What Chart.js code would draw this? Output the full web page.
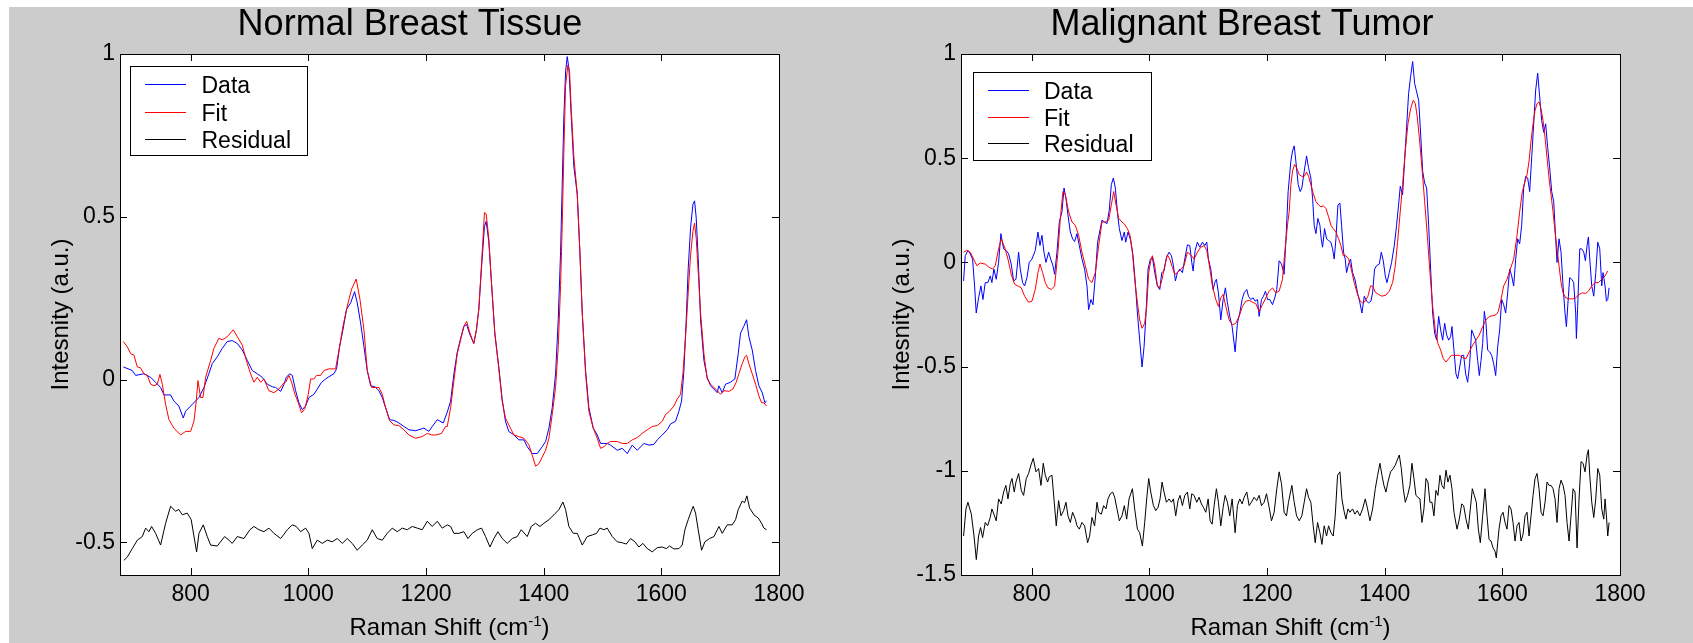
<!DOCTYPE html>
<html>
<head>
<meta charset="utf-8">
<title>Raman spectra - normal vs malignant breast tissue</title>
<script src="https://cdn.jsdelivr.net/npm/chart.js@4.4.0/dist/chart.umd.min.js"></script>
<style>
  html, body { margin: 0; padding: 0; background: #fff; }
  #fig { position: relative; width: 1693px; height: 643px; overflow: hidden; }
  #bg { position: absolute; left: 9px; top: 7px; right: 0; bottom: 0; background: #cccccc; }
  canvas { position: absolute; top: 0; }
  #normal { left: 0; }
  #tumor { left: 846px; }
</style>
</head>
<body>
<div id="fig">
  <div id="bg"></div>
  <canvas id="normal" width="846" height="643"></canvas>
  <canvas id="tumor" width="847" height="643"></canvas>
</div>
<script>
'use strict';

//titles and legend names
const normalTitle = 'Normal Breast Tissue';
const tumorTitle = 'Malignant Breast Tumor';
const seriesNames = ['Data', 'Fit', 'Residual'];
const xAxisName = 'Raman Shift (cm';
const xAxisSup = '-1';
const yAxisName = 'Intesnity (a.u.)';

//x axis (Raman shift, cm-1)
const xRange = [680, 1800];
const xTicks = [800, 1000, 1200, 1400, 1600, 1800];
const xTickLabels = ['800', '1000', '1200', '1400', '1600', '1800'];

//y axis for each plot
const normalYRange = [-0.6, 1];
const normalYTicks = [-0.5, 0, 0.5, 1];
const normalYTickLabels = ['-0.5', '0', '0.5', '1'];
const tumorYRange = [-1.5, 1];
const tumorYTicks = [-1.5, -1, -0.5, 0, 0.5, 1];
const tumorYTickLabels = ['-1.5', '-1', '-0.5', '0', '0.5', '1'];

//normal tissue: [shift, intensity]
const normalData = [
  [685.6, 0.039], [700.9, 0.028], [706.5, 0.013], [720.7, 0.018], [732, 0.007], [740.5, -0.008], [749, -0.024], [754.7, -0.047], [766, -0.047], [771.7, -0.066],
  [780, -0.081], [787.5, -0.118], [791.5, -0.097], [802.8, -0.076], [814, -0.055], [822.7, -0.024], [831, 0.018], [836.8, 0.049], [845.3, 0.07], [853.8, 0.096],
  [862.3, 0.117], [870.8, 0.12], [879.3, 0.111], [887.8, 0.091], [896.3, 0.059], [904.8, 0.028], [913.3, 0.018], [921.8, 0.007], [930.3, -0.014], [938.8, -0.022],
  [944.4, -0.024], [953, -0.036], [958.6, -0.015], [962.6, 0.007], [968.3, 0.018], [972.8, 0.013], [978.5, -0.034], [984.1, -0.071], [989.8, -0.092], [995.4, -0.081],
  [1001.1, -0.055], [1009.6, -0.045], [1015.3, -0.029], [1022.6, -0.008], [1029.4, 0.002], [1035.1, 0.009], [1043.6, 0.018], [1048.1, 0.033], [1053.2, 0.101], [1058.9, 0.153],
  [1065.1, 0.216], [1072, 0.236], [1078.7, 0.27], [1083.2, 0.236], [1088.9, 0.174], [1094.6, 0.101], [1100.2, 0.028], [1105.9, -0.019], [1113.3, -0.022], [1120.1, -0.034],
  [1125.7, -0.055], [1131.4, -0.086], [1138.2, -0.123], [1145.5, -0.125], [1154, -0.133], [1162.5, -0.144], [1171, -0.154], [1182.4, -0.157], [1196.5, -0.149], [1205, -0.159],
  [1210.7, -0.144], [1219.2, -0.123], [1229.4, -0.133], [1236.2, -0.1], [1241.9, -0.066], [1247.5, 0.018], [1253.2, 0.085], [1258.9, 0.127], [1264.5, 0.164], [1269.1, 0.169],
  [1274.7, 0.138], [1281.3, 0.111], [1285.8, 0.153], [1289.8, 0.216], [1294.3, 0.34], [1299.4, 0.47], [1302.3, 0.486], [1306.8, 0.424], [1311.3, 0.299], [1317, 0.143],
  [1323.8, 0.039], [1329.5, -0.06], [1335.1, -0.128], [1340.8, -0.159], [1349.5, -0.17], [1357.8, -0.185], [1366.5, -0.185], [1372.1, -0.206], [1380.6, -0.227], [1389.1, -0.227],
  [1397.6, -0.206], [1403.3, -0.19], [1409, -0.149], [1414.6, -0.086], [1420.3, 0.018], [1424.8, 0.184], [1428.8, 0.393], [1431.6, 0.601], [1434.4, 0.809], [1437.3, 0.945],
  [1440.1, 0.992], [1443, 0.955], [1446.9, 0.809], [1451.4, 0.653], [1457.1, 0.57], [1461.6, 0.393], [1465.6, 0.205], [1471.3, 0.028], [1476.9, -0.086], [1484.3, -0.149],
  [1491.1, -0.17], [1496.8, -0.196], [1502.4, -0.196], [1508.1, -0.196], [1513.7, -0.201], [1525.1, -0.217], [1533.6, -0.211], [1542.1, -0.227], [1550.6, -0.201], [1559.1, -0.217],
  [1570.4, -0.196], [1578.9, -0.201], [1587.4, -0.199], [1593.1, -0.185], [1601.6, -0.17], [1610.1, -0.154], [1615.7, -0.136], [1624.2, -0.128], [1629.9, -0.097], [1634.4, -0.066],
  [1638.4, 0.028], [1642.3, 0.184], [1645.7, 0.341], [1649.7, 0.466], [1653.7, 0.538], [1656.5, 0.549], [1659.3, 0.497], [1662.7, 0.372], [1666.7, 0.184], [1672.4, 0.059],
  [1678, 0.007], [1683.7, -0.019], [1689.4, -0.029], [1695, -0.04], [1697.8, -0.019], [1703.5, -0.04], [1709.2, -0.014], [1717.7, -0.008], [1725, 0.002], [1730.7, 0.08],
  [1734.7, 0.143], [1740.3, 0.164], [1744.9, 0.184], [1748.8, 0.132], [1754.5, 0.091], [1760.2, 0.028], [1765.8, -0.019], [1771.5, -0.04], [1776, -0.071], [1778.9, -0.066]
];

const normalFit = [
  [685.6, 0.117], [692.4, 0.101], [698, 0.08], [703.7, 0.075], [709.4, 0.039], [715, 0.036], [720.7, 0.018], [726.4, 0.013], [732, -0.014], [737.7, -0.019],
  [743.4, -0.014], [747.9, 0.016], [751.9, -0.014], [757.5, -0.076], [763.2, -0.123], [771.7, -0.149], [783, -0.17], [791.5, -0.159], [800, -0.159], [805.7, -0.128],
  [809.6, -0.066], [812.5, -0.003], [817, -0.055], [821, -0.055], [825.5, 0.007], [834, 0.059], [839.6, 0.096], [848, 0.127], [853.8, 0.122], [862.3, 0.132],
  [872.5, 0.153], [879.3, 0.132], [887.8, 0.106], [896.3, 0.049], [902, 0.018], [907.6, -0.008], [913.3, 0.007], [919, -0.008], [924.6, 0.002], [933, -0.034],
  [941.6, -0.04], [950, -0.029], [958.6, -0.01], [961.5, -0.008], [967.1, 0.013], [971.7, -0.008], [977.3, -0.045], [983, -0.071], [988.6, -0.102], [994.3, -0.089],
  [1000, -0.045], [1004, 0.002], [1009.6, 0.002], [1014.2, 0.013], [1021, 0.013], [1026.6, 0.028], [1035.1, 0.033], [1046.4, 0.033], [1053.2, 0.101], [1058.9, 0.164],
  [1066.3, 0.226], [1073.6, 0.278], [1081.5, 0.309], [1087.8, 0.247], [1094.6, 0.153], [1100.2, 0.028], [1107.6, -0.024], [1114.4, -0.024], [1120.1, -0.024], [1125.7, -0.045],
  [1131.4, -0.086], [1138.2, -0.126], [1145.5, -0.139], [1154, -0.141], [1162.5, -0.154], [1171, -0.17], [1182.4, -0.18], [1193.7, -0.175], [1202.2, -0.165], [1209.5, -0.17],
  [1217.5, -0.17], [1226.5, -0.165], [1233.3, -0.144], [1236.2, -0.144], [1241.9, -0.086], [1247.5, -0.003], [1253.2, 0.08], [1258.9, 0.122], [1264.5, 0.164], [1269.1, 0.179],
  [1274.7, 0.143], [1281.3, 0.111], [1285.8, 0.153], [1289.8, 0.216], [1294.3, 0.351], [1299.4, 0.513], [1302.3, 0.509], [1306.8, 0.434], [1311.3, 0.299], [1317, 0.143],
  [1323.8, 0.033], [1329.5, -0.066], [1335.1, -0.118], [1340.8, -0.139], [1349.5, -0.17], [1357.8, -0.175], [1366.5, -0.18], [1374.9, -0.2], [1380.6, -0.232], [1386.3, -0.266],
  [1392, -0.258], [1397.6, -0.238], [1403.3, -0.217], [1409, -0.18], [1414.6, -0.107], [1420.3, -0.024], [1424.8, 0.101], [1428.8, 0.289], [1431.6, 0.476], [1434.4, 0.705],
  [1437.3, 0.903], [1441.2, 0.966], [1444.1, 0.945], [1446.9, 0.83], [1451.4, 0.684], [1457.1, 0.57], [1461.6, 0.393], [1465.6, 0.205], [1471.3, 0.018], [1476.9, -0.097],
  [1484.3, -0.149], [1491.1, -0.18], [1496.8, -0.211], [1502.4, -0.206], [1508.1, -0.196], [1513.7, -0.19], [1525.1, -0.19], [1533.6, -0.196], [1542.1, -0.196], [1550.6, -0.185],
  [1559.1, -0.178], [1567.6, -0.165], [1576.1, -0.154], [1584.6, -0.144], [1593.1, -0.141], [1601.6, -0.128], [1607.2, -0.107], [1614, -0.097], [1621.4, -0.081], [1627, -0.06],
  [1632.7, -0.045], [1636.7, 0.018], [1641.2, 0.132], [1645.7, 0.268], [1649.7, 0.382], [1653.7, 0.455], [1656.5, 0.481], [1659.3, 0.434], [1662.7, 0.33], [1666.7, 0.205],
  [1672.4, 0.08], [1678, 0.002], [1683.7, -0.014], [1689.4, -0.024], [1695, -0.034], [1700.7, -0.045], [1706.4, -0.034], [1714.9, -0.036], [1721.6, -0.029], [1727.3, -0.008],
  [1731.8, 0.018], [1737.5, 0.049], [1742, 0.07], [1744.9, 0.075], [1748.8, 0.049], [1754.5, 0.018], [1760.2, -0.014], [1765.8, -0.05], [1770.4, -0.071], [1774.3, -0.071],
  [1778.9, -0.081]
];

const normalResidual = [
  [686.7, -0.555], [692.4, -0.545], [700.9, -0.519], [709.4, -0.493], [717.9, -0.482], [723.6, -0.456], [729.2, -0.467], [733.7, -0.451], [740.5, -0.472], [749, -0.508],
  [757.5, -0.441], [766, -0.389], [774.5, -0.404], [780, -0.399], [785.8, -0.415], [794.3, -0.41], [801, -0.43], [806.8, -0.493], [810.2, -0.529], [814.2, -0.472],
  [821.5, -0.446], [828.3, -0.482], [834, -0.508], [845.3, -0.511], [857.8, -0.482], [865.1, -0.493], [870.8, -0.503], [879.3, -0.482], [890.6, -0.488], [900.8, -0.461],
  [907.6, -0.451], [916.1, -0.461], [924.6, -0.467], [933.1, -0.456], [941.6, -0.472], [953, -0.488], [958.6, -0.475], [964.3, -0.461], [972.8, -0.446], [979.6, -0.451],
  [987, -0.467], [995.4, -0.456], [1001.1, -0.472], [1006.8, -0.519], [1015.3, -0.493], [1023.8, -0.503], [1032.3, -0.493], [1040.8, -0.498], [1049.3, -0.488], [1057.8, -0.503],
  [1066.3, -0.488], [1074.7, -0.503], [1083.2, -0.524], [1091.7, -0.508], [1100.2, -0.493], [1108.7, -0.461], [1117.2, -0.488], [1125.7, -0.493], [1134.2, -0.472], [1142.7, -0.456],
  [1151.2, -0.467], [1159.7, -0.456], [1168.2, -0.461], [1176.7, -0.451], [1185.2, -0.456], [1193.7, -0.461], [1202.2, -0.435], [1210.7, -0.451], [1219.2, -0.435], [1227.7, -0.456],
  [1236.2, -0.446], [1241.9, -0.451], [1247.5, -0.472], [1256, -0.472], [1264.5, -0.467], [1271.3, -0.488], [1278.7, -0.472], [1287.2, -0.461], [1294.5, -0.456], [1301.3, -0.482],
  [1308.7, -0.514], [1315.5, -0.488], [1322.3, -0.467], [1329.7, -0.488], [1338.2, -0.503], [1346.7, -0.488], [1355.1, -0.482], [1361.9, -0.461], [1372.1, -0.482], [1378.9, -0.451],
  [1386.3, -0.441], [1393.7, -0.451], [1400.5, -0.441], [1409, -0.43], [1417.5, -0.415], [1426, -0.399], [1432.7, -0.376], [1437.3, -0.399], [1442.9, -0.451], [1450.3, -0.472],
  [1457.1, -0.472], [1465.6, -0.508], [1474.1, -0.482], [1482.6, -0.477], [1490, -0.472], [1495.6, -0.456], [1502.4, -0.461], [1508.1, -0.456], [1516.6, -0.482], [1525.1, -0.498],
  [1533.6, -0.501], [1540.4, -0.505], [1547.8, -0.488], [1555.1, -0.498], [1561.9, -0.514], [1568.7, -0.503], [1576.1, -0.519], [1584.6, -0.529], [1593.1, -0.516], [1601.6, -0.514],
  [1608.4, -0.519], [1614, -0.511], [1621.4, -0.52], [1629.9, -0.519], [1635.5, -0.508], [1640.1, -0.461], [1645.7, -0.43], [1650.8, -0.404], [1654.2, -0.389], [1658.2, -0.41],
  [1662.7, -0.461], [1668.4, -0.524], [1674.1, -0.498], [1682, -0.488], [1689.4, -0.482], [1697.9, -0.451], [1703.5, -0.472], [1712, -0.446], [1720.5, -0.446], [1726.2, -0.43],
  [1730.7, -0.399], [1737.5, -0.373], [1741.5, -0.378], [1745.4, -0.357], [1750, -0.394], [1757.3, -0.415], [1764.7, -0.425], [1770.4, -0.441], [1774.3, -0.456], [1778.9, -0.461]
];

//malignant tumor: [shift, intensity]
const tumorData = [
  [684.4, -0.089], [687.2, 0.032], [691.8, 0.057], [695.7, 0.041], [699.7, 0.016], [703.1, -0.113], [705.9, -0.243], [709.9, -0.17], [713.9, -0.113], [717.3, -0.178],
  [721.2, -0.097], [725.7, -0.097], [729.7, -0.065], [732.5, -0.097], [735.9, -0.032], [739.9, -0.081], [743.9, 0], [747.8, 0.138], [752.4, 0.065], [756.9, 0.057],
  [760.9, 0.041], [765.4, -0.008], [769.4, -0.089], [773.4, -0.081], [777.9, 0.049], [780.7, -0.032], [784.7, -0.097], [788.1, -0.113], [792.1, -0.073], [796, 0],
  [800.6, 0.016], [806.2, 0.057], [810.8, 0.146], [814.2, 0.081], [817.6, 0.13], [821, 0.049], [824.4, 0], [829, 0.049], [832.4, 0.016], [836.3, -0.016],
  [839.1, -0.057], [843.1, 0.049], [847.1, 0.194], [851.6, 0.243], [855.1, 0.357], [858.4, 0.308], [861.8, 0.227], [865.8, 0.146], [869.7, 0.113], [873.1, 0.1],
  [877.1, 0.138], [881.1, 0.081], [885.6, 0.016], [890.1, -0.032], [894.1, -0.113], [896.9, -0.227], [900.9, -0.178], [904.3, -0.203], [908.3, -0.065], [912.2, 0.097],
  [915.6, 0.146], [919.6, 0.203], [923.6, 0.194], [928.1, 0.186], [932, 0.251], [935.5, 0.373], [938.9, 0.405], [942.3, 0.357], [946.3, 0.227], [949.1, 0.162],
  [953.6, 0.105], [957.6, 0.146], [959.9, 0.097], [963.9, 0.146], [968.4, 0.105], [972.4, 0.032], [975.8, -0.081], [979.8, -0.243], [983.7, -0.373], [987.7, -0.502],
  [991.1, -0.405], [994.5, -0.243], [997.9, -0.032], [1001.9, 0.016], [1005.3, 0.024], [1009.3, -0.049], [1013.8, -0.113], [1017.8, -0.13], [1021.2, -0.049], [1025.1, -0.041],
  [1029.1, 0.024], [1033.6, 0.049], [1037.6, 0.032], [1041, -0.016], [1044.4, -0.089], [1047.8, -0.049], [1051.8, -0.032], [1056.3, -0.049], [1060.3, 0.016], [1064.8, 0.084],
  [1068.8, 0.081], [1072.2, 0], [1074.5, -0.041], [1077.9, 0.057], [1081.8, 0.097], [1085.8, 0.073], [1090.3, 0.097], [1094.3, 0.081], [1097.7, 0.097], [1100.5, 0.016],
  [1104.5, -0.032], [1108.5, -0.13], [1111.3, -0.097], [1114.1, -0.081], [1117.5, -0.146], [1121.5, -0.276], [1125.5, -0.178], [1129.4, -0.122], [1132.8, -0.194], [1136.8, -0.259],
  [1140.8, -0.308], [1145.9, -0.429], [1149.8, -0.292], [1153.8, -0.243], [1157.8, -0.178], [1161.2, -0.146], [1165.7, -0.13], [1168.5, -0.162], [1172.5, -0.178], [1176.5, -0.17],
  [1179.9, -0.186], [1183.9, -0.178], [1186.7, -0.259], [1190.7, -0.178], [1194.1, -0.162], [1197.5, -0.138], [1200.9, -0.178], [1204.8, -0.178], [1209.4, -0.203], [1213.3, -0.17],
  [1216.7, -0.13], [1220.7, 0.008], [1224.7, -0.008], [1229.2, -0.057], [1232.6, 0.13], [1236, 0.34], [1240.6, 0.486], [1243.5, 0.535], [1246.3, 0.559], [1249.1, 0.486],
  [1253.1, 0.373], [1256.5, 0.34], [1259.3, 0.357], [1263.3, 0.438], [1267.3, 0.511], [1270.7, 0.454], [1274.6, 0.405], [1277.5, 0.308], [1280.3, 0.178], [1283.2, 0.138],
  [1286.6, 0.211], [1290, 0.178], [1292.2, 0.113], [1294.5, 0.073], [1297.9, 0.162], [1301.3, 0.113], [1304.7, 0.105], [1308.7, 0.097], [1311.5, 0.065], [1314.3, 0.016],
  [1317.2, 0.113], [1320.6, 0.276], [1324, 0.284], [1326.8, 0.178], [1330.2, 0.049], [1333, 0.016], [1335.3, -0.049], [1338.7, -0.008], [1342.1, 0.016], [1345.5, -0.049],
  [1349.5, -0.081], [1354, -0.146], [1358, -0.194], [1361.4, -0.243], [1365.4, -0.162], [1369.3, -0.186], [1372.7, -0.194], [1376.7, -0.186], [1379.5, -0.146], [1382.9, -0.032],
  [1386.3, -0.016], [1390.9, -0.008], [1394.3, 0.049], [1397.7, 0.008], [1401.1, -0.065], [1403.9, -0.097], [1407.9, -0.049], [1411.8, 0], [1416.4, 0.081], [1420.3, 0.178],
  [1423.7, 0.276], [1426.6, 0.365], [1430.5, 0.324], [1433.9, 0.486], [1437.3, 0.648], [1440.7, 0.81], [1444.1, 0.891], [1447.6, 0.964], [1451, 0.859], [1454.4, 0.818],
  [1457.8, 0.778], [1461.2, 0.616], [1464.6, 0.438], [1468, 0.381], [1471.4, 0.357], [1474.8, 0.178], [1478.2, -0.032], [1481.6, -0.243], [1485, -0.34], [1488.4, -0.373],
  [1491.8, -0.259], [1495.2, -0.324], [1498.6, -0.373], [1502, -0.292], [1505.4, -0.348], [1508.8, -0.373], [1512.2, -0.356], [1514.4, -0.308], [1517.8, -0.421], [1521.2, -0.535],
  [1524.1, -0.559], [1527.5, -0.502], [1530.9, -0.446], [1534.3, -0.446], [1537.7, -0.535], [1541.1, -0.575], [1544.5, -0.486], [1547.9, -0.324], [1551.3, -0.348], [1554.7, -0.373],
  [1558.1, -0.47], [1560.9, -0.543], [1563.8, -0.47], [1566.6, -0.389], [1569.4, -0.235], [1572.3, -0.292], [1575.1, -0.421], [1578.5, -0.429], [1581.9, -0.446], [1585.3, -0.486],
  [1588.7, -0.543], [1592.1, -0.405], [1595.5, -0.324], [1598.9, -0.178], [1602.3, -0.203], [1605.7, -0.243], [1609.1, -0.146], [1612.5, -0.032], [1615.9, -0.065], [1619.3, -0.113],
  [1622.7, 0.016], [1626.1, 0.113], [1629.5, 0.089], [1632.9, 0.178], [1636.3, 0.357], [1639.7, 0.413], [1643.1, 0.405], [1646.5, 0.34], [1649.9, 0.502], [1653.3, 0.665],
  [1656.7, 0.827], [1660.1, 0.908], [1663.5, 0.794], [1666.9, 0.681], [1670.3, 0.624], [1673.7, 0.665], [1677.1, 0.551], [1680.5, 0.454], [1683.9, 0.34], [1687.3, 0.292],
  [1690.7, 0.113], [1693, 0], [1696.4, 0.113], [1699.8, 0.049], [1703.2, -0.113], [1706.6, -0.243], [1708.9, -0.308], [1712.3, -0.162], [1714.5, -0.073], [1717.9, -0.081],
  [1721.3, -0.097], [1724.7, -0.243], [1725.9, -0.365], [1728.1, -0.211], [1731.6, 0.065], [1735, 0.065], [1738.4, 0.049], [1741.2, 0.008], [1744.1, 0.081], [1746.3, 0.122],
  [1748.6, 0.016], [1752, -0.113], [1755.4, -0.162], [1758.8, -0.049], [1762.2, 0.097], [1765.6, 0.065], [1769, -0.113], [1771.2, -0.049], [1774.6, -0.113], [1776.9, -0.186],
  [1779.2, -0.178], [1781.4, -0.122]
];

const tumorFit = [
  [684.4, 0.049], [690, 0.057], [695.7, 0.049], [701.4, 0.016], [707, -0.016], [712.7, -0.003], [721.2, -0.008], [728, -0.024], [733.7, -0.032], [738.2, -0.016],
  [743.9, 0.065], [748.4, 0.113], [754.1, 0.073], [759.8, 0.016], [765.4, -0.057], [771.1, -0.105], [776.8, -0.113], [782.4, -0.122], [788.1, -0.162], [794.9, -0.191],
  [800.6, -0.186], [806.2, -0.13], [810.8, -0.049], [814.2, -0.008], [818.7, -0.049], [823.2, -0.097], [827.8, -0.122], [833.4, -0.13], [839.1, -0.113], [844.8, 0.049],
  [848.8, 0.211], [853.3, 0.34], [857.3, 0.324], [862.9, 0.243], [868.6, 0.194], [874.3, 0.178], [879.9, 0.13], [885.6, 0.049], [891.3, -0.016], [896.9, -0.081],
  [902.6, -0.097], [908.3, -0.049], [914, 0.081], [919.6, 0.194], [925.3, 0.194], [931, 0.203], [935.5, 0.276], [939.5, 0.34], [943.5, 0.276], [948, 0.211],
  [953.6, 0.194], [957.1, 0.186], [962.8, 0.162], [967.3, 0.13], [971.3, 0.049], [975.2, -0.081], [979.8, -0.194], [983.7, -0.276], [987.7, -0.316], [992.2, -0.292],
  [995.6, -0.211], [999, -0.049], [1002.5, 0.008], [1005.3, 0.032], [1009.3, -0.016], [1013.8, -0.113], [1017.8, -0.122], [1021.7, -0.081], [1026.3, -0.016], [1030.8, 0.036],
  [1034.8, 0.016], [1039.3, -0.024], [1043.3, -0.057], [1047.8, -0.049], [1053.5, -0.032], [1059.1, -0.016], [1064.8, 0.049], [1070.5, 0.036], [1076.1, 0.016], [1081.8, 0.049],
  [1087.5, 0.073], [1093.2, 0.081], [1097.7, 0.057], [1102.2, -0.016], [1107.3, -0.113], [1113, -0.178], [1117.5, -0.211], [1121.5, -0.17], [1125.5, -0.154], [1130, -0.211],
  [1135.7, -0.276], [1141.3, -0.3], [1147, -0.292], [1152.7, -0.259], [1158.3, -0.211], [1164, -0.186], [1169.7, -0.182], [1175.4, -0.191], [1181, -0.198], [1186.7, -0.235],
  [1192.4, -0.203], [1198, -0.17], [1203.7, -0.138], [1209.4, -0.122], [1215, -0.146], [1220.7, -0.138], [1226.4, -0.081], [1230.3, 0.049], [1234.9, 0.18], [1237.8, 0.243],
  [1240.6, 0.373], [1243.5, 0.438], [1246.9, 0.47], [1250.3, 0.454], [1254.8, 0.421], [1259.3, 0.413], [1263.3, 0.413], [1267.3, 0.434], [1270.7, 0.413], [1274.6, 0.373],
  [1278.6, 0.332], [1283.2, 0.292], [1287.7, 0.276], [1291.7, 0.267], [1295.6, 0.272], [1300.2, 0.259], [1304.7, 0.219], [1308.7, 0.178], [1312.6, 0.162], [1317.2, 0.146],
  [1321.7, 0.113], [1325.7, 0.081], [1329.6, 0.032], [1334.2, 0.032], [1338.7, 0.016], [1343.2, -0.032], [1348.3, -0.097], [1354, -0.154], [1358.6, -0.186], [1362.5, -0.194],
  [1367.1, -0.186], [1371.6, -0.162], [1376.1, -0.113], [1379.5, -0.113], [1384.1, -0.143], [1389.7, -0.154], [1395.4, -0.162], [1402.2, -0.157], [1407.9, -0.138], [1413.5, -0.097],
  [1418.1, -0.016], [1422, 0.097], [1426, 0.227], [1430.5, 0.373], [1435.1, 0.535], [1439.6, 0.665], [1444.1, 0.737], [1448.7, 0.778], [1452.1, 0.762], [1455.5, 0.697],
  [1458.9, 0.6], [1463.4, 0.454], [1468, 0.292], [1472.5, 0.13], [1477, -0.049], [1481.6, -0.211], [1486.1, -0.324], [1490.6, -0.389], [1495.2, -0.421], [1499.7, -0.462],
  [1504.2, -0.478], [1508.8, -0.462], [1513.3, -0.446], [1518.4, -0.446], [1526.9, -0.446], [1532.6, -0.457], [1538.2, -0.462], [1543.9, -0.429], [1549.6, -0.397], [1555.2, -0.373],
  [1560.9, -0.348], [1566.6, -0.308], [1572.3, -0.276], [1577.9, -0.259], [1583.6, -0.256], [1589.3, -0.251], [1593.2, -0.235], [1597.8, -0.178], [1602.3, -0.113], [1608, -0.081],
  [1613.6, -0.032], [1619.3, 0.016], [1625, 0.13], [1629.5, 0.243], [1634, 0.34], [1638.6, 0.389], [1642, 0.421], [1645.4, 0.486], [1648.8, 0.583], [1652.2, 0.665],
  [1655.6, 0.729], [1659, 0.762], [1662.4, 0.77], [1665.8, 0.737], [1669.2, 0.681], [1672.6, 0.6], [1676, 0.502], [1679.4, 0.405], [1682.8, 0.324], [1686.2, 0.243],
  [1689.6, 0.146], [1693, 0.065], [1696.4, -0.016], [1699.8, -0.097], [1703.2, -0.146], [1707.7, -0.17], [1713.4, -0.175], [1719.1, -0.175], [1724.7, -0.17], [1730.4, -0.154],
  [1736.1, -0.146], [1741.8, -0.149], [1746.3, -0.138], [1752, -0.113], [1757.6, -0.097], [1763.3, -0.097], [1769, -0.081], [1774.6, -0.065], [1779.2, -0.041]
];

const tumorResidual = [
  [684.4, -1.313], [688.4, -1.183], [691.8, -1.151], [697.6, -1.208], [702.1, -1.313], [706, -1.426], [709.9, -1.313], [713.3, -1.272], [716.7, -1.321], [721.2, -1.248],
  [725.2, -1.264], [729.7, -1.224], [732.5, -1.183], [735.9, -1.208], [739.9, -1.24], [743.9, -1.135], [748.4, -1.159], [752.4, -1.102], [756.3, -1.07], [759.8, -1.135],
  [763.7, -1.062], [766.6, -1.037], [770.5, -1.102], [773.4, -1.054], [777.9, -1.013], [782.4, -1.094], [786.4, -1.118], [790.9, -1.037], [794.9, -1.013], [798.9, -0.972],
  [802.8, -0.94], [807.4, -1.005], [811.9, -0.989], [815.9, -1.07], [819.8, -0.964], [823.2, -1.021], [827.2, -1.054], [830, -1.029], [834.6, -1.021], [838.5, -1.151],
  [841.9, -1.264], [845.9, -1.143], [849.9, -1.216], [854.4, -1.191], [858.4, -1.151], [861.8, -1.216], [865.8, -1.248], [869.7, -1.199], [874.3, -1.232], [877.1, -1.264],
  [881.1, -1.28], [885.6, -1.248], [890.1, -1.264], [895.2, -1.345], [898.6, -1.313], [902.6, -1.224], [907.1, -1.264], [911.1, -1.151], [914, -1.199], [918.5, -1.208],
  [922.4, -1.167], [926.4, -1.183], [929.8, -1.135], [933.8, -1.11], [937.8, -1.102], [941.2, -1.127], [945.1, -1.183], [949.1, -1.24], [953.6, -1.216], [957.6, -1.167],
  [961.6, -1.232], [965.6, -1.135], [971.3, -1.086], [975.2, -1.183], [979.8, -1.28], [983.7, -1.297], [988.3, -1.361], [992.2, -1.248], [995.6, -1.135], [999, -1.037],
  [1002.5, -1.102], [1007, -1.167], [1011, -1.191], [1014.9, -1.175], [1018.3, -1.135], [1021.7, -1.054], [1025.1, -1.102], [1029.1, -1.151], [1033.6, -1.135], [1037.6, -1.151],
  [1041, -1.135], [1044.9, -1.216], [1048.9, -1.143], [1052.3, -1.118], [1056.3, -1.167], [1060.3, -1.118], [1064.8, -1.102], [1068.8, -1.183], [1072.2, -1.11], [1076.1, -1.118],
  [1080.7, -1.151], [1084.6, -1.127], [1088.6, -1.159], [1092, -1.175], [1096, -1.199], [1100, -1.135], [1103.4, -1.24], [1106.8, -1.256], [1110.2, -1.167], [1114.1, -1.086],
  [1117.5, -1.151], [1121.5, -1.264], [1125.5, -1.175], [1128.9, -1.118], [1132.8, -1.151], [1136.8, -1.216], [1140.8, -1.135], [1145.9, -1.297], [1149.8, -1.167], [1153.8, -1.135],
  [1157.8, -1.159], [1161.2, -1.127], [1165.7, -1.102], [1169.7, -1.167], [1173.6, -1.151], [1178.1, -1.127], [1182.6, -1.143], [1186.7, -1.118], [1190.7, -1.167], [1195.2, -1.151],
  [1199.2, -1.11], [1203.7, -1.175], [1207.7, -1.24], [1212.2, -1.199], [1216.7, -1.086], [1220.7, -1.005], [1224.7, -1.062], [1229.2, -1.199], [1233.2, -1.216], [1236.6, -1.151],
  [1242.3, -1.07], [1246.3, -1.151], [1250.3, -1.216], [1254.8, -1.24], [1259.3, -1.216], [1263.3, -1.151], [1267.3, -1.086], [1270.7, -1.127], [1274.6, -1.151], [1278.6, -1.264],
  [1282, -1.345], [1286, -1.248], [1290, -1.297], [1293.4, -1.353], [1297.3, -1.264], [1301.3, -1.313], [1304.7, -1.264], [1308.7, -1.297], [1312.6, -1.313], [1316, -1.216],
  [1320, -1.021], [1324, -1.005], [1327.4, -1.135], [1330.8, -1.191], [1334.2, -1.232], [1337.6, -1.183], [1341, -1.199], [1345.5, -1.183], [1349.5, -1.208], [1353.4, -1.191],
  [1358, -1.216], [1362.5, -1.183], [1367.1, -1.135], [1371, -1.183], [1375, -1.24], [1379.5, -1.183], [1384.1, -1.086], [1388.1, -1.021], [1392, -0.964], [1395.4, -1.021],
  [1398.8, -1.07], [1402.2, -1.102], [1405.6, -1.054], [1410.1, -1.005], [1414.7, -0.989], [1418.1, -0.972], [1421.5, -0.948], [1424.9, -0.924], [1428.3, -0.989], [1431.7, -1.086],
  [1435.1, -1.151], [1439, -1.118], [1443, -1.07], [1446.4, -0.964], [1449.8, -1.037], [1453.2, -1.118], [1456.6, -1.127], [1460, -1.135], [1463.4, -1.248], [1466.8, -1.183],
  [1470.2, -1.037], [1473.6, -1.054], [1477, -1.151], [1480.4, -1.151], [1483.8, -1.216], [1487.2, -1.094], [1490.6, -1.118], [1494, -1.021], [1497.4, -1.07], [1500.8, -1.086],
  [1504.2, -0.997], [1507.6, -1.054], [1511, -1.021], [1514.4, -1.086], [1517.8, -1.199], [1523, -1.28], [1526.9, -1.232], [1530.9, -1.159], [1534.3, -1.167], [1538.2, -1.232],
  [1542.2, -1.28], [1545.6, -1.183], [1549, -1.086], [1552.4, -1.118], [1555.8, -1.151], [1559.2, -1.28], [1562.6, -1.345], [1566.6, -1.216], [1570.6, -1.086], [1574, -1.216],
  [1577.4, -1.329], [1580.8, -1.337], [1584.2, -1.37], [1587.6, -1.386], [1589.8, -1.418], [1592.1, -1.345], [1594.4, -1.28], [1597.8, -1.216], [1601.2, -1.199], [1604.6, -1.248],
  [1608, -1.28], [1611.4, -1.167], [1614.8, -1.183], [1618.2, -1.248], [1621.6, -1.337], [1625, -1.264], [1628.4, -1.248], [1631.8, -1.337], [1635.2, -1.305], [1638.6, -1.216],
  [1642, -1.199], [1645.4, -1.313], [1648.8, -1.216], [1652.2, -1.118], [1655.6, -1.037], [1659, -1.013], [1662.4, -1.086], [1665.8, -1.199], [1669.2, -1.216], [1672.6, -1.151],
  [1676, -1.054], [1679.4, -1.07], [1682.8, -1.07], [1686.2, -1.086], [1689.6, -1.135], [1693, -1.248], [1696.4, -1.086], [1699.8, -1.045], [1703.2, -1.07], [1706.6, -1.118],
  [1710, -1.248], [1713.4, -1.337], [1716.8, -1.216], [1720.2, -1.086], [1723.6, -1.102], [1727, -1.37], [1730.4, -1.135], [1733.8, -0.956], [1737.2, -0.964], [1740.6, -1.005],
  [1744, -0.924], [1746.3, -0.899], [1748.6, -1.021], [1752, -1.151], [1755.4, -1.224], [1758.8, -1.135], [1762.2, -0.989], [1765.6, -1.021], [1769, -1.183], [1772.4, -1.232],
  [1774.6, -1.135], [1776.9, -1.216], [1779.2, -1.313], [1781.4, -1.248]
];

const fontFamily = '"Liberation Sans", Arial, Helvetica, sans-serif';
Chart.defaults.font.family = fontFamily;
Chart.defaults.font.size = 23;
Chart.defaults.color = '#000000';

const lineColors = ['#0000ff', '#ff0000', '#000000'];
const tickLen = 7;

//turn [x, y] pairs into points for chart.js
function toPoints(pairs) {
  return pairs.map(p => ({ x: p[0], y: p[1] }));
}

//draws the white axes box, inner ticks, titles and the boxed legend (matlab look)
const matlabAxes = {
  id: 'matlabAxes',
  beforeDraw(chart) {
    const a = chart.chartArea;
    const ctx = chart.ctx;
    ctx.save();
    ctx.fillStyle = '#ffffff';
    ctx.fillRect(a.left, a.top, a.right - a.left, a.bottom - a.top);
    ctx.restore();
  },
  afterDraw(chart, args, opts) {
    const ctx = chart.ctx;
    const a = chart.chartArea;
    const xs = chart.scales.x;
    const ys = chart.scales.y;
    ctx.save();
    ctx.strokeStyle = '#000000';
    ctx.lineWidth = 1;
    ctx.strokeRect(a.left + 0.5, a.top + 0.5, a.right - a.left, a.bottom - a.top);

    //ticks inside the box, all four sides
    ctx.beginPath();
    xs.ticks.forEach(t => {
      const px = Math.round(xs.getPixelForValue(t.value)) + 0.5;
      ctx.moveTo(px, a.bottom);
      ctx.lineTo(px, a.bottom - tickLen);
      ctx.moveTo(px, a.top);
      ctx.lineTo(px, a.top + tickLen);
    });
    ys.ticks.forEach(t => {
      const py = Math.round(ys.getPixelForValue(t.value)) + 0.5;
      ctx.moveTo(a.left, py);
      ctx.lineTo(a.left + tickLen, py);
      ctx.moveTo(a.right, py);
      ctx.lineTo(a.right - tickLen, py);
    });
    ctx.stroke();

    ctx.fillStyle = '#000000';
    //title
    ctx.font = '36px ' + fontFamily;
    ctx.textAlign = 'center';
    ctx.textBaseline = 'alphabetic';
    ctx.fillText(opts.title, opts.titleX, 35);

    //x label with superscript
    const mainFont = '24px ' + fontFamily;
    const supFont = '15px ' + fontFamily;
    ctx.font = mainFont;
    const w1 = ctx.measureText(xAxisName).width;
    const w3 = ctx.measureText(')').width;
    ctx.font = supFont;
    const w2 = ctx.measureText(xAxisSup).width;
    let x0 = (a.left + a.right) / 2 - (w1 + w2 + w3) / 2;
    ctx.textAlign = 'left';
    ctx.font = mainFont;
    ctx.fillText(xAxisName, x0, 635);
    ctx.font = supFont;
    ctx.fillText(xAxisSup, x0 + w1, 626);
    ctx.font = mainFont;
    ctx.fillText(')', x0 + w1 + w2, 635);

    //y label
    ctx.save();
    ctx.translate(a.left - 52, (a.top + a.bottom) / 2);
    ctx.rotate(-Math.PI / 2);
    ctx.textAlign = 'center';
    ctx.font = mainFont;
    ctx.fillText(yAxisName, 0, 0);
    ctx.restore();

    //legend
    const lg = opts.legend;
    ctx.fillStyle = '#ffffff';
    ctx.fillRect(lg.x, lg.y, lg.w, lg.h);
    ctx.strokeStyle = '#000000';
    ctx.strokeRect(lg.x + 0.5, lg.y + 0.5, lg.w, lg.h);
    ctx.font = '23px ' + fontFamily;
    ctx.textAlign = 'left';
    chart.data.datasets.forEach((ds, i) => {
      const ry = Math.round(lg.row0 + i * lg.gap) + 0.5;
      ctx.strokeStyle = ds.borderColor;
      ctx.beginPath();
      ctx.moveTo(lg.lineX0, ry);
      ctx.lineTo(lg.lineX1, ry);
      ctx.stroke();
      ctx.fillStyle = '#000000';
      ctx.fillText(ds.label, lg.textX, ry + 8.5);
    });
    ctx.restore();
  }
};

function makeSpectrumChart(id, series, yRange, yTicks, yTickLabels, look) {
  const datasets = series.map((s, i) => ({
    label: seriesNames[i],
    data: toPoints(s),
    borderColor: lineColors[i],
    borderWidth: 1,
    pointRadius: 0,
    tension: 0,
    fill: false,
    order: i === 0 ? 2 : (i === 1 ? 1 : 0)
  }));
  return new Chart(document.getElementById(id), {
    type: 'line',
    data: { datasets: datasets },
    plugins: [matlabAxes],
    options: {
      responsive: false,
      animation: false,
      devicePixelRatio: 1,
      parsing: false,
      layout: { padding: { top: 54, right: look.padRight, bottom: 0, left: 0 } },
      plugins: {
        legend: { display: false },
        tooltip: { enabled: false },
        matlabAxes: { title: look.title, titleX: look.titleX, legend: look.legend }
      },
      scales: {
        x: {
          type: 'linear',
          min: xRange[0],
          max: xRange[1],
          bounds: 'data',
          grid: { display: false, drawTicks: false },
          border: { display: false },
          afterBuildTicks: scale => { scale.ticks = xTicks.map(v => ({ value: v })); },
          afterFit: scale => { scale.height = 68; },
          ticks: {
            padding: 6,
            autoSkip: false,
            maxRotation: 0,
            color: '#000000',
            callback: (v, i) => xTickLabels[i]
          }
        },
        y: {
          type: 'linear',
          min: yRange[0],
          max: yRange[1],
          bounds: 'data',
          grid: { display: false, drawTicks: false },
          border: { display: false },
          afterBuildTicks: scale => { scale.ticks = yTicks.map(v => ({ value: v })); },
          afterFit: scale => { scale.width = look.yWidth; },
          ticks: {
            padding: 5,
            autoSkip: false,
            color: '#000000',
            callback: (v, i) => yTickLabels[i]
          }
        }
      }
    }
  });
}

makeSpectrumChart('normal', [normalData, normalFit, normalResidual], normalYRange, normalYTicks, normalYTickLabels, {
  title: normalTitle,
  titleX: 410,
  padRight: 67,
  yWidth: 120,
  legend: { x: 130, y: 66, w: 177, h: 89, lineX0: 145, lineX1: 186, textX: 201.5, row0: 84, gap: 27.7 }
});

makeSpectrumChart('tumor', [tumorData, tumorFit, tumorResidual], tumorYRange, tumorYTicks, tumorYTickLabels, {
  title: tumorTitle,
  titleX: 396,
  padRight: 73,
  yWidth: 115,
  legend: { x: 127, y: 72, w: 178, h: 88, lineX0: 142, lineX1: 183, textX: 198, row0: 90, gap: 26.5 }
});
</script>
</body>
</html>
